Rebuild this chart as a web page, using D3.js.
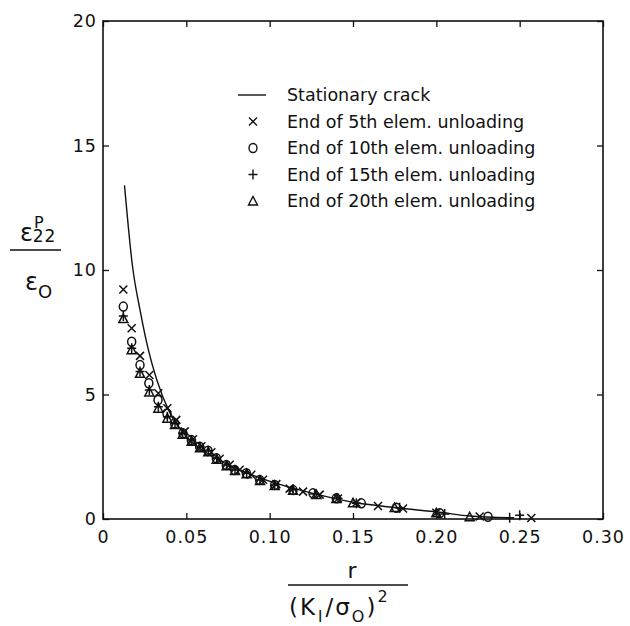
<!DOCTYPE html>
<html>
<head>
<meta charset="utf-8">
<script src="https://cdn.jsdelivr.net/npm/d3@7/dist/d3.min.js"></script>
<style>
  body { margin: 0; background: #fff; }
  text { font-family: "DejaVu Sans", sans-serif; fill: #111; }
</style>
</head>
<body>
<div id="chart"></div>
<script>
// tick values
const xTicks = [0, 0.05, 0.10, 0.15, 0.20, 0.25, 0.30];
const yTicks = [0, 5, 10, 15, 20];

// stationary crack curve
const crackR = [0.0129, 0.0178, 0.0222, 0.0272, 0.0322, 0.0402, 0.0502, 0.0622, 0.0822, 0.108, 0.126, 0.152, 0.176, 0.202, 0.220, 0.244];
const crackE = [13.4, 10.1, 8.4, 6.8, 5.6, 4.25, 3.3, 2.65, 1.97, 1.35, 1.03, 0.65, 0.45, 0.27, 0.12, 0.05];

// end of 5th element unloading (x)
const el5R = [0.0122, 0.0172, 0.0222, 0.0278, 0.0332, 0.0386, 0.044, 0.049, 0.054, 0.059, 0.065, 0.070, 0.076, 0.082, 0.089, 0.096, 0.104, 0.112, 0.120, 0.130, 0.141, 0.152, 0.165, 0.180, 0.200, 0.226, 0.257];
const el5E = [9.22, 7.66, 6.55, 5.78, 5.05, 4.45, 3.98, 3.52, 3.2, 2.92, 2.68, 2.42, 2.18, 1.98, 1.78, 1.58, 1.40, 1.22, 1.10, 0.98, 0.82, 0.65, 0.52, 0.42, 0.25, 0.10, 0.04];

// end of 10th element unloading (o)
const el10R = [0.0122, 0.0172, 0.0222, 0.0275, 0.033, 0.0384, 0.043, 0.048, 0.053, 0.058, 0.063, 0.068, 0.074, 0.079, 0.086, 0.094, 0.103, 0.114, 0.126, 0.140, 0.155, 0.176, 0.202, 0.231];
const el10E = [8.53, 7.12, 6.18, 5.45, 4.78, 4.24, 3.84, 3.44, 3.17, 2.90, 2.74, 2.44, 2.17, 1.97, 1.84, 1.57, 1.37, 1.16, 1.03, 0.83, 0.63, 0.45, 0.23, 0.09];

// end of 15th element unloading (+)
const el15R = [0.0122, 0.0172, 0.0222, 0.0278, 0.0332, 0.0386, 0.0432, 0.0478, 0.0532, 0.0582, 0.0632, 0.0682, 0.0742, 0.0792, 0.0862, 0.0942, 0.103, 0.114, 0.127, 0.141, 0.152, 0.178, 0.205, 0.244, 0.250];
const el15E = [8.15, 6.86, 5.92, 5.18, 4.51, 4.11, 3.84, 3.44, 3.17, 2.90, 2.74, 2.44, 2.17, 1.97, 1.84, 1.57, 1.37, 1.18, 1.0, 0.83, 0.63, 0.45, 0.2, 0.05, 0.15];

// end of 20th element unloading (triangle)
const el20R = [0.0122, 0.0172, 0.0222, 0.0278, 0.0332, 0.0386, 0.0432, 0.0478, 0.0532, 0.0582, 0.0632, 0.0682, 0.0742, 0.0792, 0.0862, 0.0942, 0.103, 0.114, 0.128, 0.140, 0.150, 0.175, 0.200, 0.220];
const el20E = [8.05, 6.80, 5.85, 5.10, 4.45, 4.05, 3.80, 3.40, 3.12, 2.86, 2.70, 2.40, 2.14, 1.95, 1.82, 1.55, 1.35, 1.15, 0.98, 0.82, 0.65, 0.46, 0.25, 0.09];

const legendLabels = ["Stationary crack", "End of 5th elem. unloading", "End of 10th elem. unloading",
  "End of 15th elem. unloading", "End of 20th elem. unloading"];

let margin = { top: 21, left: 103, right: 27, bottom: 107 },
  width = 630 - margin.left - margin.right,
  height = 626 - margin.top - margin.bottom;

let svg = d3.select("#chart").append("svg")
  .attr("width", 630).attr("height", 626)
  .style("background-color", "#FFFFFF");

let g = svg.append("g").attr("transform", "translate(" + margin.left + "," + margin.top + ")");

let x = d3.scaleLinear().domain([0, 0.3]).range([0, width]);
let y = d3.scaleLinear().domain([0, 20]).range([height, 0]);

const fmtX = d => d === 0 ? "0" : d.toFixed(2);

// axes, ticks pointing inward
g.append("g").attr("class", "axis")
  .attr("transform", "translate(0," + height + ")")
  .call(d3.axisBottom(x).tickValues(xTicks).tickFormat(fmtX).tickSize(-6).tickPadding(12));
g.append("g").attr("class", "axis")
  .call(d3.axisTop(x).tickValues(xTicks).tickFormat("").tickSize(-6));
g.append("g").attr("class", "axis")
  .call(d3.axisLeft(y).tickValues(yTicks).tickSize(-6).tickPadding(6));
g.append("g").attr("class", "axis")
  .attr("transform", "translate(" + width + ",0)")
  .call(d3.axisRight(y).tickValues(yTicks).tickFormat("").tickSize(-6));

g.selectAll(".axis .domain").remove();
g.selectAll(".axis line").attr("stroke", "#111").attr("stroke-width", 1.3);
g.selectAll(".axis text").style("font-size", "17.5px").style("letter-spacing", "1px")
  .style("font-family", "DejaVu Sans").attr("fill", "#111");

// frame
g.append("rect").attr("width", width).attr("height", height)
  .attr("fill", "none").attr("stroke", "#111").attr("stroke-width", 1.6);

// stationary crack curve
let crack = crackR.map((r, i) => [r, crackE[i]]);
let line = d3.line().x(d => x(d[0])).y(d => y(d[1])).curve(d3.curveMonotoneX);
g.append("path").datum(crack)
  .attr("d", line).attr("fill", "none").attr("stroke", "#111").attr("stroke-width", 1.4);

// marker shapes
const shapes = {
  cross: "M-4,-4L4,4M-4,4L4,-4",
  circle: "M0,-4.5A4,4.5 0 1,1 0,4.5A4,4.5 0 1,1 0,-4.5Z",
  plus: "M-4.5,0H4.5M0,-5V5",
  tri: "M0,-4.5L4.5,4H-4.5Z"
};

let series = [
  { r: el5R, e: el5E, shape: "cross" },
  { r: el10R, e: el10E, shape: "circle" },
  { r: el15R, e: el15E, shape: "plus" },
  { r: el20R, e: el20E, shape: "tri" }
];

series.forEach(function(s) {
  g.append("g").selectAll("path")
    .data(s.r.map((r, i) => [r, s.e[i]]))
    .enter().append("path")
    .attr("transform", d => "translate(" + x(d[0]) + "," + y(d[1]) + ")")
    .attr("d", shapes[s.shape])
    .attr("fill", "none").attr("stroke", "#111").attr("stroke-width", 1.5);
});

// legend
let legendY = d3.scaleLinear().domain([0, 4]).range([95, 201]);
let legend = svg.selectAll(".legend")
  .data(legendLabels)
  .enter().append("g")
  .attr("class", "legend")
  .attr("transform", (d, i) => "translate(0," + legendY(i) + ")");

legend.filter((d, i) => i === 0).append("line")
  .attr("x1", 238).attr("x2", 266).attr("y1", 0).attr("y2", 0)
  .attr("stroke", "#111").attr("stroke-width", 1.4);

const legendShapes = ["cross", "circle", "plus", "tri"];
legend.filter((d, i) => i > 0).append("path")
  .attr("transform", "translate(253,0)")
  .attr("d", (d, i) => shapes[legendShapes[i]])
  .attr("fill", "none").attr("stroke", "#111").attr("stroke-width", 1.4);

legend.append("text")
  .attr("x", 287).attr("dy", "0.36em")
  .style("font-size", "17.5px")
  .text(d => d);

// y axis label: eps^P_22 / eps_0
let yl = svg.append("g");
let num = yl.append("text").attr("x", 20).attr("y", 241).style("font-size", "24px");
num.append("tspan").text("\u03b5");
num.append("tspan").attr("dy", -13).attr("dx", 1).style("font-size", "16px").text("P");
num.append("tspan").attr("dy", 14).attr("dx", -11).style("font-size", "17px")
  .style("letter-spacing", "1px").text("22");
yl.append("line").attr("x1", 10).attr("x2", 61).attr("y1", 250).attr("y2", 250)
  .attr("stroke", "#111").attr("stroke-width", 1.4);
let dn = yl.append("text").attr("x", 25).attr("y", 290).style("font-size", "24px");
dn.append("tspan").text("\u03b5");
dn.append("tspan").attr("dy", 8).style("font-size", "18px").text("O");

// x axis label: r / (K_I/sigma_0)^2
let xl = svg.append("g");
xl.append("text").attr("x", 352).attr("y", 578).attr("text-anchor", "middle")
  .style("font-size", "22px").text("r");
xl.append("line").attr("x1", 288).attr("x2", 408).attr("y1", 585).attr("y2", 585)
  .attr("stroke", "#111").attr("stroke-width", 1.4);
let den = xl.append("text").attr("x", 289).attr("y", 615)
  .style("font-size", "23px").style("letter-spacing", "2px");
den.append("tspan").text("(K");
den.append("tspan").attr("dy", 7).attr("dx", 1).style("font-size", "15px").text("I");
den.append("tspan").attr("dy", -7).attr("dx", 1).text("/\u03c3");
den.append("tspan").attr("dy", 7).style("font-size", "16px").text("O");
den.append("tspan").attr("dy", -7).text(")");
den.append("tspan").attr("dy", -13).style("font-size", "16px").text("2");
</script>
</body>
</html>
